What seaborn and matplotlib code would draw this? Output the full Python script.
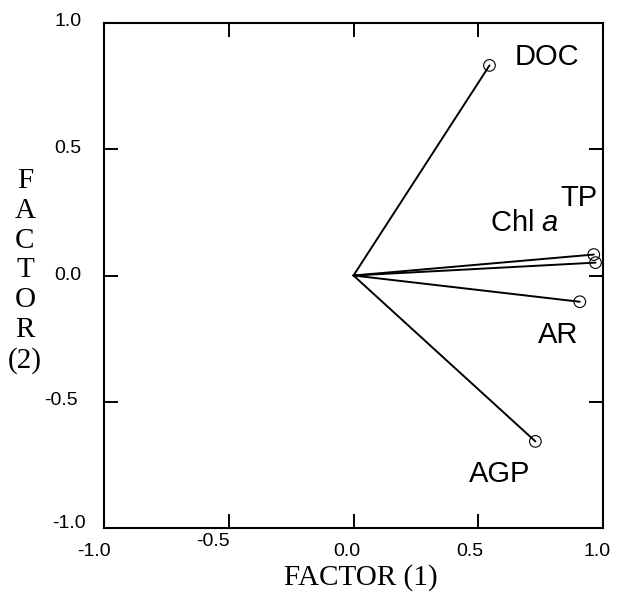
import matplotlib
matplotlib.use("Agg")
import matplotlib.pyplot as plt
import matplotlib.transforms as mtrans
import seaborn as sns
import pandas as pd

# ---- data ----
variables = ["DOC", "TP", "Chl a", "AR", "AGP"]
factor1 = [0.545, 0.963, 0.970, 0.907, 0.729]
factor2 = [0.832, 0.083, 0.051, -0.104, -0.657]
label_texts = ["DOC", "TP", "Chl $a$", "AR", "AGP"]
label_x = [0.645, 0.830, 0.549, 0.741, 0.461]
label_y = [0.832, 0.277, 0.178, -0.269, -0.816]
tick_values = [-1.0, -0.5, 0.0, 0.5, 1.0]
tick_labels = ["-1.0", "-0.5", "0.0", "0.5", "1.0"]

sns.set_style("ticks")
plt.rcParams["font.family"] = ["Liberation Sans", "DejaVu Sans"]
plt.rcParams["mathtext.fontset"] = "custom"
plt.rcParams["mathtext.rm"] = "Liberation Sans"
plt.rcParams["mathtext.it"] = "Liberation Sans:italic"
plt.rcParams["text.color"] = "black"
plt.rcParams["axes.labelcolor"] = "black"
plt.rcParams["xtick.color"] = "black"
plt.rcParams["ytick.color"] = "black"
plt.rcParams["xtick.labelcolor"] = "black"
plt.rcParams["ytick.labelcolor"] = "black"
plt.rcParams["axes.edgecolor"] = "black"

W, H = 618, 607
fig = plt.figure(figsize=(W / 100, H / 100), dpi=100)
ax = fig.add_axes([104 / W, 1 - 528 / H, (603 - 104) / W, (528 - 23) / H])

rows = []
for v, x, y in zip(variables, factor1, factor2):
    rows.append({"var": v, "x": 0.0, "y": 0.0, "o": 0})
    rows.append({"var": v, "x": x, "y": y, "o": 1})
lines_df = pd.DataFrame(rows)
pts_df = pd.DataFrame({"var": variables, "x": factor1, "y": factor2})

sns.lineplot(data=lines_df, x="x", y="y", units="var", estimator=None,
             sort=False, color="black", lw=1.4, ax=ax, legend=False)
sns.scatterplot(data=pts_df, x="x", y="y", marker="o", s=70, ax=ax, legend=False)
for coll in ax.collections:
    coll.set_facecolor("none")
    coll.set_edgecolor("black")
    coll.set_linewidth(0.8)

for t, lx, ly in zip(label_texts, label_x, label_y):
    ax.text(lx, ly, t, fontsize=21, ha="left", va="baseline",
            family="Liberation Sans", color="black")

ax.set_xlim(-1.0, 1.0)
ax.set_ylim(-1.0, 1.0)
ax.set_xticks(tick_values)
ax.set_yticks(tick_values)
ax.set_xticklabels(tick_labels, fontsize=14)
ax.set_yticklabels(tick_labels, fontsize=14)
ax.tick_params(direction="in", length=10, width=1.4, top=True, right=True,
               labelsize=14, color="black", labelcolor="black")
ax.tick_params(axis="y", pad=16)
ax.tick_params(axis="x", pad=11)
for sp in ax.spines.values():
    sp.set_linewidth(1.5)
    sp.set_color("black")
ax.set_xlabel("")
ax.set_ylabel("")

# quirky label offsets as in the original
xoffs = {0: (-10, 0), 1: (-16, 10), 2: (-7, 0), 3: (-8, 0), 4: (-6, 0)}
for i, lab in enumerate(ax.get_xticklabels()):
    dx, dy = xoffs[i]
    lab.set_transform(lab.get_transform() + mtrans.ScaledTranslation(dx / 100, dy / 100, fig.dpi_scale_trans))
yoffs = {0: (4, 6), 1: (-4, 3), 2: (0, 2), 3: (0, 3), 4: (0, 3)}
for i, lab in enumerate(ax.get_yticklabels()):
    dx, dy = yoffs[i]
    lab.set_transform(lab.get_transform() + mtrans.ScaledTranslation(dx / 100, dy / 100, fig.dpi_scale_trans))

fig.text(361 / W, 1 - 578 / H, "FACTOR (1)", fontsize=21, ha="center", va="center",
         family="Liberation Serif", color="black")
fig.text(25 / W, 1 - 271 / H, "F\nA\nC\nT\nO\nR\n(2)", fontsize=21, ha="center",
         va="center", linespacing=1.19, family="Liberation Serif", color="black")

fig.savefig("out.png", dpi=100)
